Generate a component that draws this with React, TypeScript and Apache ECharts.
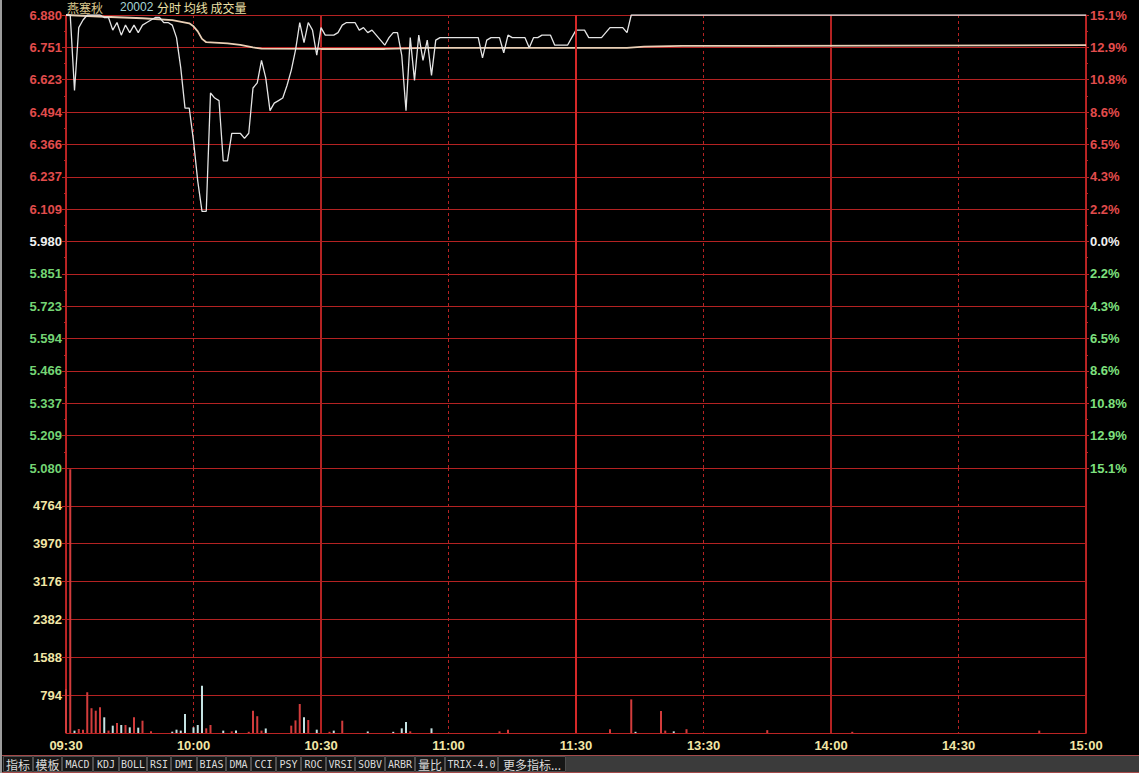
import React, { useEffect, useRef } from "react";
import * as echarts from "echarts";

// ---------- data ----------
const PREV_CLOSE = 5.98;
const PRICE_TICKS = ["5.080", "5.209", "5.337", "5.466", "5.594", "5.723", "5.851", "5.980", "6.109", "6.237", "6.366", "6.494", "6.623", "6.751", "6.880"];
const PCT_TICKS = ["15.1%", "12.9%", "10.8%", "8.6%", "6.5%", "4.3%", "2.2%", "0.0%", "2.2%", "4.3%", "6.5%", "8.6%", "10.8%", "12.9%", "15.1%"];
const VOL_TICKS = [0, 794, 1588, 2382, 3176, 3970, 4764, 5558];
const TIME_LABELS = ["09:30", "10:00", "10:30", "11:00", "11:30", "13:30", "14:00", "14:30", "15:00"];

// minute-by-minute price from 09:30 (minute 0)
const PRICE_VALUES = [
  6.88, 6.88, 6.58, 6.83, 6.86, 6.88, 6.88, 6.88, 6.88, 6.87,
  6.87, 6.82, 6.85, 6.80, 6.84, 6.81, 6.84, 6.81, 6.84, 6.85,
  6.86, 6.87, 6.87, 6.85, 6.85, 6.84, 6.79, 6.67, 6.51, 6.51,
  6.38, 6.22, 6.10, 6.10, 6.57, 6.55, 6.54, 6.30, 6.30, 6.41,
  6.41, 6.41, 6.39, 6.41, 6.59, 6.61, 6.70, 6.63, 6.50, 6.53,
  6.54, 6.55, 6.60, 6.66, 6.74, 6.85, 6.77, 6.85, 6.82, 6.72,
  6.83, 6.80, 6.80, 6.80, 6.81, 6.84, 6.85, 6.85, 6.85, 6.82,
  6.83, 6.81, 6.82, 6.80, 6.78, 6.76, 6.79, 6.81, 6.81, 6.72,
  6.50, 6.79, 6.62, 6.80, 6.70, 6.78, 6.64, 6.78, 6.79, 6.79,
  6.79, 6.79, 6.79, 6.79, 6.79, 6.79, 6.79, 6.79, 6.71, 6.78,
  6.79, 6.79, 6.79, 6.73, 6.80, 6.79, 6.79, 6.79, 6.79, 6.75,
  6.79, 6.79, 6.80, 6.80, 6.80, 6.76, 6.76, 6.76, 6.76, 6.79,
  6.82, 6.82, 6.82, 6.79, 6.79, 6.79, 6.79, 6.81, 6.83, 6.83,
  6.83, 6.83, 6.81, 6.88,
];
// price held at the top until the close
const PRICE_TAIL_MINUTES = [240];
const PRICE_TAIL_VALUES = [6.88];

const AVG_MINUTES = [0, 9, 18, 25, 29, 30, 31, 32, 33, 38, 41, 44, 46, 60, 75, 85, 132, 136, 145, 240];
const AVG_VALUES = [6.88, 6.873, 6.867, 6.86, 6.847, 6.835, 6.815, 6.785, 6.772, 6.767, 6.761, 6.751, 6.746, 6.745, 6.745, 6.749, 6.749, 6.754, 6.757, 6.76];

const VOL_MINUTES = [0, 1, 2, 3, 4, 5, 6, 7, 8, 9, 10, 11, 12, 13, 14, 15, 16, 17, 18, 20, 25, 26, 27, 28, 30, 31, 32, 33, 34, 37, 39, 40, 43, 44, 45, 46, 47, 53, 54, 55, 56, 57, 59, 62, 63, 65, 71, 77, 79, 80, 81, 86, 102, 104, 128, 133, 134, 140, 141, 143, 146, 165, 185, 229];
const VOL_VALUES = [920, 5530, 50, 84, 70, 855, 520, 468, 540, 329, 50, 154, 210, 168, 168, 119, 329, 112, 258, 35, 28, 70, 50, 398, 119, 168, 990, 98, 168, 50, 35, 50, 25, 468, 352, 50, 95, 154, 265, 608, 329, 272, 70, 25, 50, 258, 32, 25, 98, 230, 35, 98, 35, 70, 80, 705, 25, 460, 50, 35, 80, 60, 25, 50];
const VOL_DIR = ["r", "r", "w", "r", "r", "r", "r", "r", "r", "w", "r", "w", "r", "w", "r", "w", "r", "w", "r", "r", "w", "w", "w", "w", "w", "w", "w", "r", "r", "w", "r", "w", "r", "r", "r", "r", "w", "r", "r", "r", "w", "r", "w", "r", "w", "r", "w", "w", "w", "w", "r", "w", "r", "r", "r", "r", "w", "r", "r", "w", "r", "r", "r", "r"];

const HEADER_NAME = "燕塞秋";
const HEADER_CODE = "20002";
const HEADER_ITEMS = "分时 均线 成交量";
const TAB_LABELS = ["指标", "模板", "MACD", "KDJ", "BOLL", "RSI", "DMI", "BIAS", "DMA", "CCI", "PSY", "ROC", "VRSI", "SOBV", "ARBR", "量比", "TRIX-4.0", "更多指标..."];

// ---------- layout / style ----------
const W = 1139;
const H = 773;
const TAB_EDGES = [3, 33, 62, 93, 119, 147, 171, 197, 226, 251, 276, 301, 326, 355, 385, 415, 445, 498, 566];
const GRID_RED = "#b42222";
const AXIS_RED = "#bc2424";
const UP_RED = "#d23c3c";
const DOWN_WHITE = "#c4e2e2";
const LBL_FONT = "'Liberation Sans', Arial, sans-serif";
const CJK_FONT = "'Noto Sans CJK SC', sans-serif";
const DASH = [3, 3];

const HALF = (PRICE_TICKS.length - 1) / 2;
const STEP = (parseFloat(PRICE_TICKS[PRICE_TICKS.length - 1]) - PREV_CLOSE) / HALF;
const toUnits = (p: number) => (p - PREV_CLOSE) / STEP;

const sideColor = (v: any, upC: string, flatC: string, downC: string) => {
  const n = Math.round(Number(v));
  return n > 0 ? upC : n < 0 ? downC : flatC;
};

// heavier line at the lunch break (11:30 / 13:00)
const noonMarkLine = {
  silent: true,
  symbol: ["none", "none"],
  label: { show: false },
  animation: false,
  lineStyle: { color: "#d42828", width: 2, type: "solid" },
  data: [{ xAxis: 120 }],
};

const hiddenX = (gridIndex: number, interval: number, splitType: any, width: number) => ({
  gridIndex, type: "value", min: 0, max: 240, interval,
  axisLine: { show: false }, axisTick: { show: false }, axisLabel: { show: false },
  splitLine: { show: true, lineStyle: { color: GRID_RED, width, type: splitType } },
});

function buildOption(): any {
  const priceData: any[] = PRICE_VALUES.map((p, i) => [i, toUnits(p)]);
  PRICE_TAIL_MINUTES.forEach((m, i) => priceData.push([m, toUnits(PRICE_TAIL_VALUES[i])]));
  const avgData = AVG_MINUTES.map((m, i) => [m, toUnits(AVG_VALUES[i])]);
  const volData = VOL_MINUTES.map((m, i) => ({
    value: [m, VOL_VALUES[i]],
    itemStyle: { color: VOL_DIR[i] === "r" ? UP_RED : DOWN_WHITE },
  }));
  const volMax = VOL_TICKS[VOL_TICKS.length - 1];
  const volStep = VOL_TICKS[1] - VOL_TICKS[0];

  const graphic: any[] = [
    { type: "rect", shape: { x: 0, y: 0, width: 2, height: H }, style: { fill: "#9c9c9c" }, silent: true },
    { type: "text", x: 67, y: 7, style: { text: HEADER_NAME, fill: "#d8c48c", font: `12px ${CJK_FONT}`, align: "left", verticalAlign: "middle", textAlign: "left", textVerticalAlign: "middle" } },
    { type: "text", x: 120, y: 7, style: { text: HEADER_CODE, fill: "#a6d4d4", font: `12px ${LBL_FONT}`, align: "left", verticalAlign: "middle", textAlign: "left", textVerticalAlign: "middle" } },
    { type: "text", x: 157, y: 7, style: { text: HEADER_ITEMS, fill: "#eee0a8", font: `12px ${CJK_FONT}`, align: "left", verticalAlign: "middle", textAlign: "left", textVerticalAlign: "middle" } },
    // tab bar background
    { type: "rect", shape: { x: 2, y: 755, width: W - 2, height: 18 }, style: { fill: "#121212" }, silent: true },
    { type: "rect", shape: { x: TAB_EDGES[TAB_EDGES.length - 1], y: 756, width: W - TAB_EDGES[TAB_EDGES.length - 1], height: 16 }, style: { fill: "#3b3b3b" }, silent: true },
    { type: "line", shape: { x1: 2, y1: 755.5, x2: W, y2: 755.5 }, style: { stroke: "#a44a4a", lineWidth: 1 }, silent: true },
    { type: "line", shape: { x1: 2, y1: 772.5, x2: W, y2: 772.5 }, style: { stroke: "#a44a4a", lineWidth: 1 }, silent: true },
  ];
  TAB_LABELS.forEach((t, i) => {
    const x0 = TAB_EDGES[i];
    const x1 = TAB_EDGES[i + 1];
    const latin = /^[A-Z0-9.\-]+$/.test(t);
    graphic.push({
      type: "rect",
      shape: { x: x0 + 0.5, y: 756.5, width: x1 - x0 - 1, height: 15 },
      style: { fill: "#161616", stroke: "#4e4e4e", lineWidth: 1 },
      silent: true,
    });
    graphic.push({
      type: "text",
      x: (x0 + x1) / 2,
      y: 764,
      style: {
        text: t,
        fill: "#dadada",
        font: latin ? "10px 'DejaVu Sans Mono', monospace" : `12px ${CJK_FONT}`,
        align: "center",
        verticalAlign: "middle",
        textAlign: "center",
        textVerticalAlign: "middle",
      },
    });
  });

  return {
    animation: false,
    backgroundColor: "#000000",
    grid: [
      { left: 66, top: 15, width: 1020, height: 453 },
      { left: 66, top: 468, width: 1020, height: 265 },
    ],
    xAxis: [
      // 0: price grid, dashed half-hour lines
      hiddenX(0, 30, DASH, 1),
      // 1: volume grid, time labels + dashed half-hour lines
      {
        gridIndex: 1, type: "value", min: 0, max: 240, interval: 30,
        axisLine: { show: true, onZero: false, lineStyle: { color: AXIS_RED, width: 1 } },
        axisTick: { show: false },
        splitLine: { show: true, lineStyle: { color: GRID_RED, width: 1, type: DASH } },
        axisLabel: {
          show: true, showMinLabel: true, showMaxLabel: true,
          formatter: (v: number) => TIME_LABELS[Math.round(v / 30)] ?? "",
          color: "#f2e6a6", fontFamily: LBL_FONT, fontWeight: "bold", fontSize: 13, margin: 6,
        },
      },
      // 2,3: solid hourly lines over the dashed ones
      hiddenX(0, 60, "solid", 2),
      hiddenX(1, 60, "solid", 2),
    ],
    yAxis: [
      {
        gridIndex: 0, type: "value", position: "left", min: -HALF, max: HALF, interval: 1,
        axisLine: { show: true, onZero: false, lineStyle: { color: AXIS_RED } },
        axisTick: { show: true, length: 4, lineStyle: { color: AXIS_RED } },
        minorTick: { show: true, splitNumber: 2, length: 2, lineStyle: { color: AXIS_RED } },
        splitLine: { show: true, lineStyle: { color: GRID_RED, width: 1 } },
        axisLabel: {
          showMinLabel: true, showMaxLabel: true,
          formatter: (v: number) => PRICE_TICKS[Math.round(v) + HALF] ?? "",
          color: (v: any) => sideColor(v, "#e24c4c", "#f0f0f0", "#74d474"),
          fontFamily: LBL_FONT, fontWeight: "bold", fontSize: 13, margin: 4,
        },
      },
      {
        gridIndex: 0, type: "value", position: "right", min: -HALF, max: HALF, interval: 1,
        axisLine: { show: true, onZero: false, lineStyle: { color: AXIS_RED } },
        axisTick: { show: true, length: 3, lineStyle: { color: AXIS_RED } },
        minorTick: { show: true, splitNumber: 2, length: 2, lineStyle: { color: AXIS_RED } },
        splitLine: { show: false },
        axisLabel: {
          showMinLabel: true, showMaxLabel: true,
          formatter: (v: number) => PCT_TICKS[Math.round(v) + HALF] ?? "",
          color: (v: any) => sideColor(v, "#e24c4c", "#f0f0f0", "#7ee07e"),
          fontFamily: LBL_FONT, fontWeight: "bold", fontSize: 13, margin: 4,
        },
      },
      {
        gridIndex: 1, type: "value", position: "left", min: 0, max: volMax, interval: volStep,
        axisLine: { show: true, onZero: false, lineStyle: { color: AXIS_RED } },
        axisTick: { show: true, length: 4, lineStyle: { color: AXIS_RED } },
        splitLine: { show: true, lineStyle: { color: GRID_RED, width: 1 } },
        axisLabel: {
          showMinLabel: false, showMaxLabel: false,
          formatter: (v: number) => (v <= 0 || v >= volMax ? "" : String(v)),
          color: "#f2e6a6", fontFamily: LBL_FONT, fontWeight: "bold", fontSize: 13, margin: 4,
        },
      },
      {
        gridIndex: 1, type: "value", position: "right", min: 0, max: volMax, interval: volStep,
        axisLine: { show: true, onZero: false, lineStyle: { color: AXIS_RED } },
        axisTick: { show: false }, axisLabel: { show: false }, splitLine: { show: false },
      },
    ],
    series: [
      {
        name: "均线", type: "line", xAxisIndex: 0, yAxisIndex: 0, data: avgData,
        showSymbol: false, symbol: "none", z: 2,
        lineStyle: { color: "#ead0b6", width: 1.8 },
        markLine: noonMarkLine,
      },
      {
        name: "分时", type: "line", xAxisIndex: 0, yAxisIndex: 0, data: priceData,
        showSymbol: false, symbol: "none", z: 3,
        lineStyle: { color: "#e4e4e4", width: 1.3 },
      },
      {
        name: "成交量", type: "bar", xAxisIndex: 1, yAxisIndex: 2, data: volData,
        barWidth: 2, z: 3,
        markLine: noonMarkLine,
      },
    ],
    graphic,
  };
}

export default function App() {
  const ref = useRef<HTMLDivElement>(null);
  useEffect(() => {
    if (!ref.current) return;
    const chart = echarts.init(ref.current, undefined, { renderer: "svg" });
    chart.setOption(buildOption());
    return () => chart.dispose();
  }, []);
  return (
    <div
      ref={ref}
      style={{ position: "fixed", left: 0, top: 0, width: W, height: H, background: "#000" }}
    />
  );
}
